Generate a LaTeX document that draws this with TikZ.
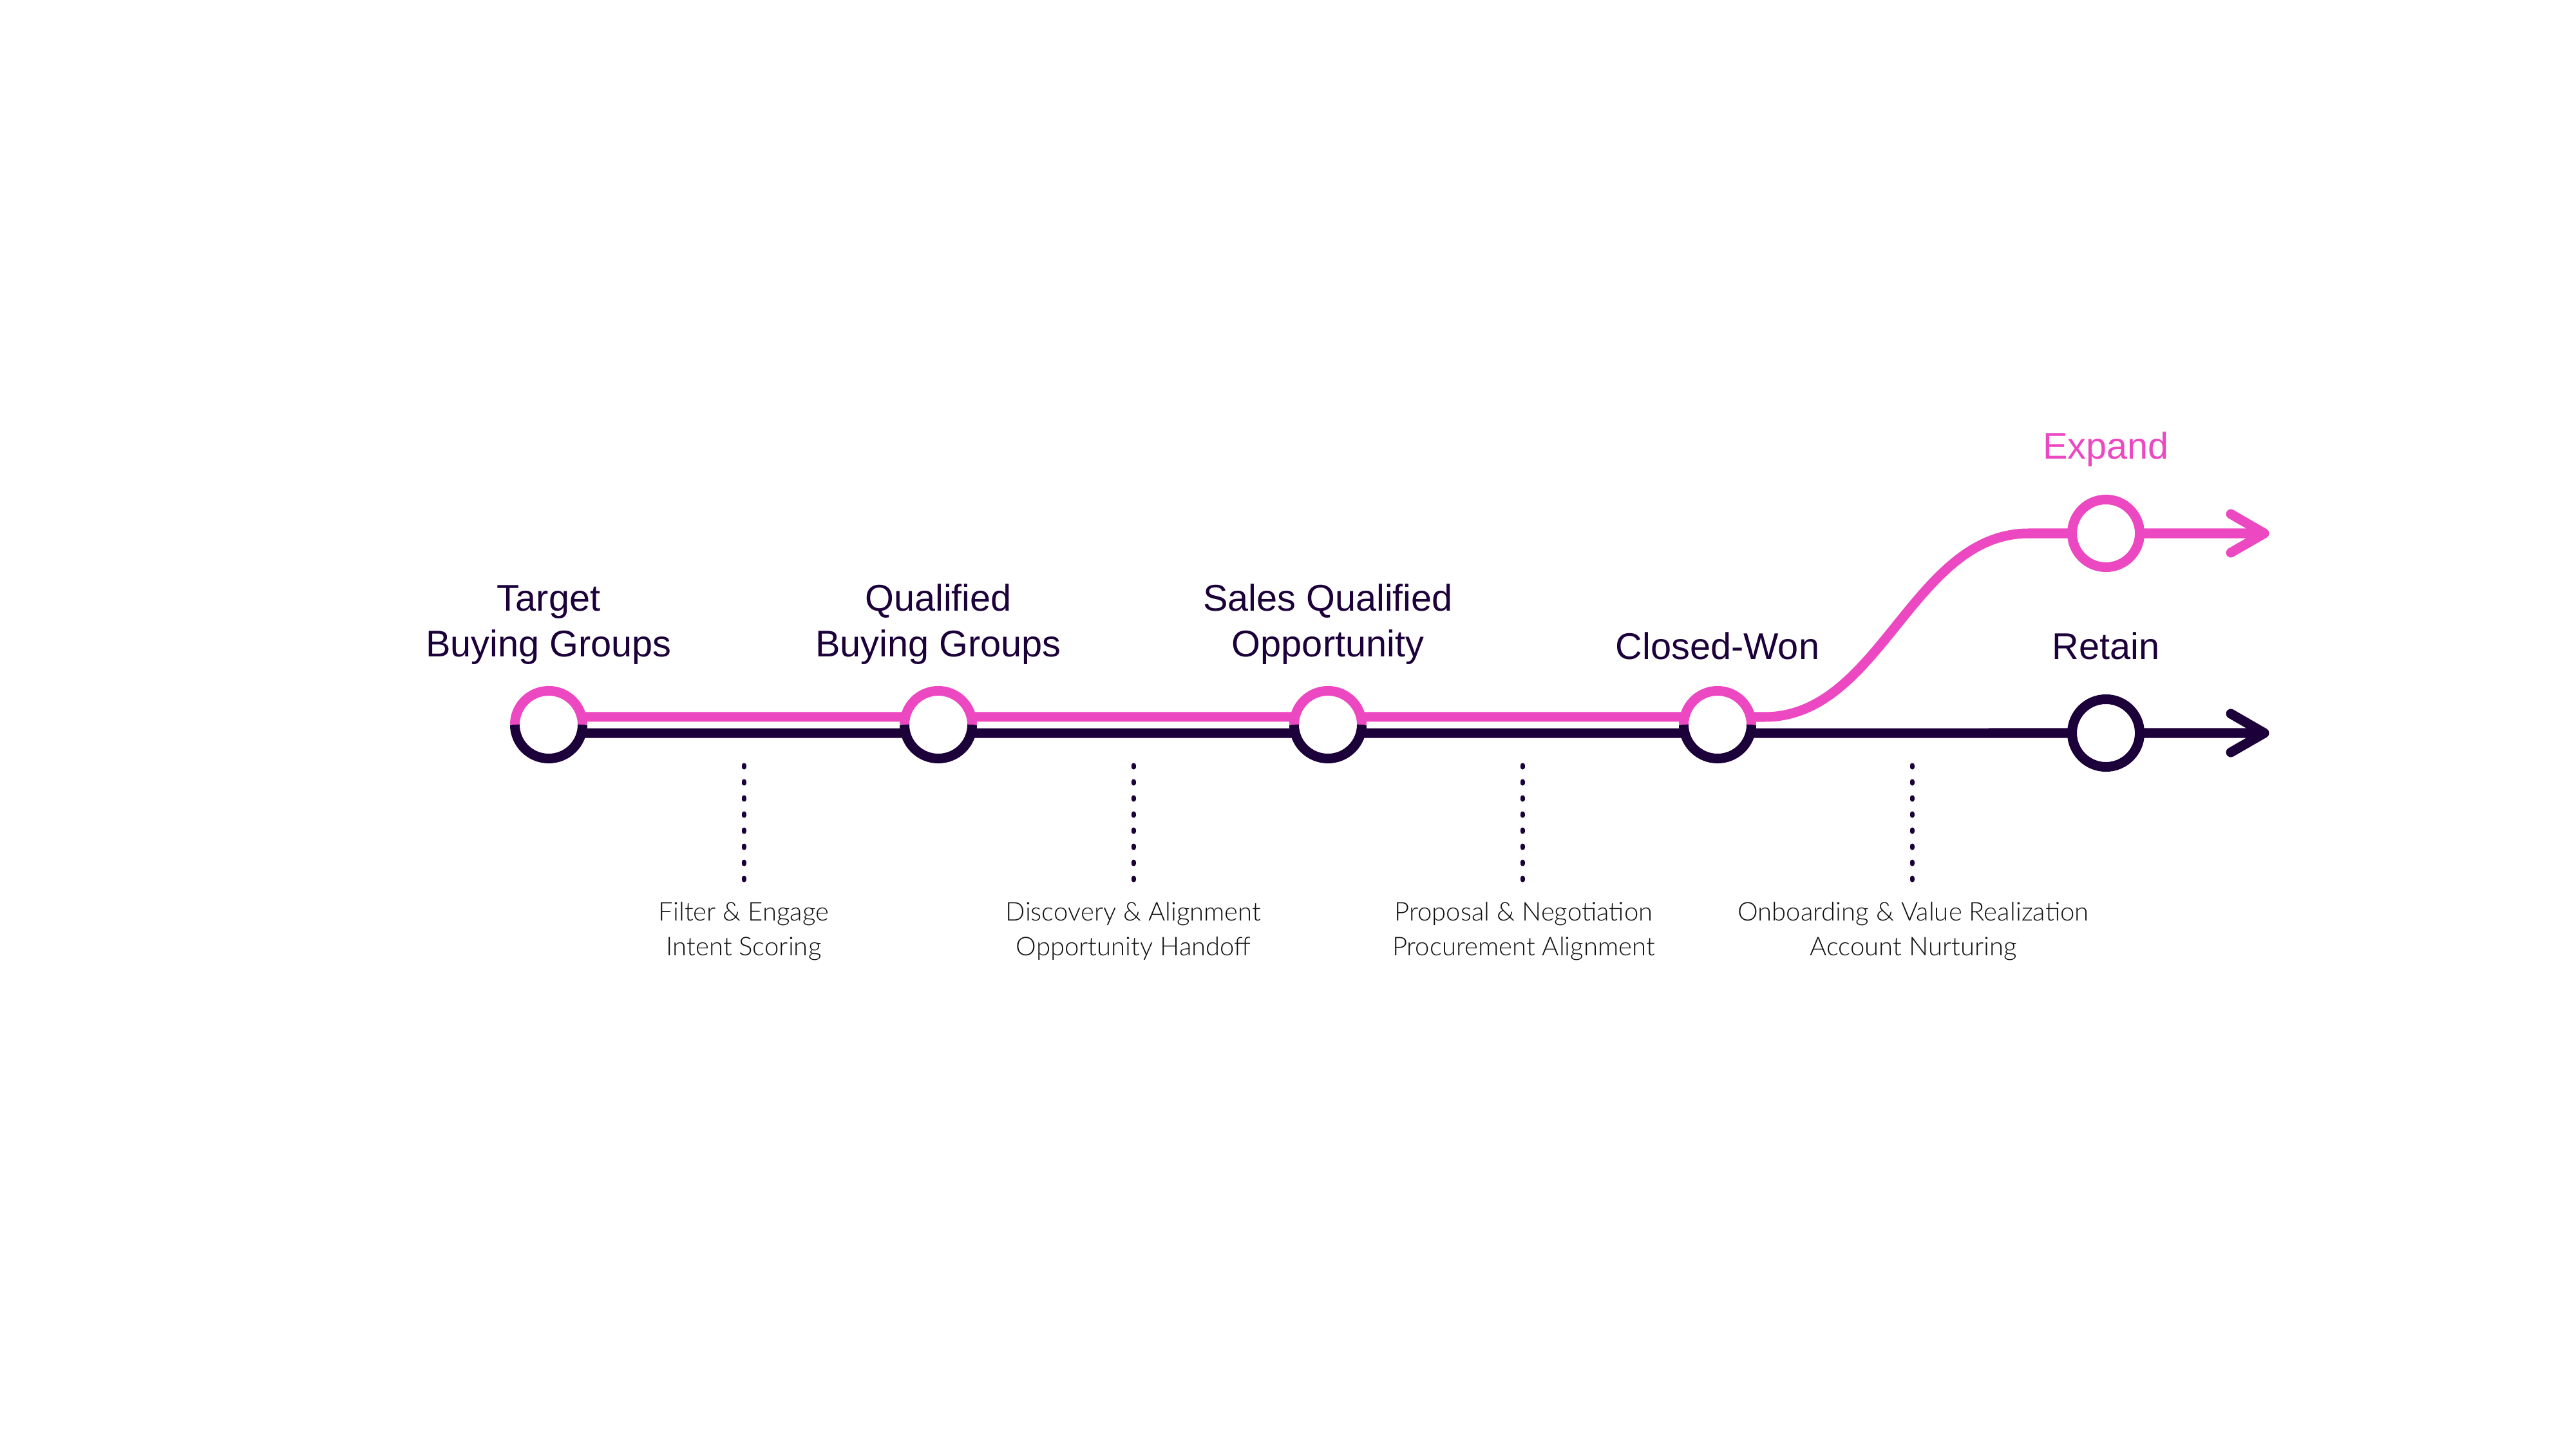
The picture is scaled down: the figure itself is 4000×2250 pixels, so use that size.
\documentclass[tikz,border=0pt]{standalone}
\usepackage{fontspec}
\setmainfont{Liberation Sans}
\IfFontExistsTF{Lato Light}{\newfontfamily\lightfont{Lato Light}}{\newfontfamily\lightfont{Liberation Sans}}
\definecolor{pk}{HTML}{EC48C1}
\definecolor{nv}{HTML}{1C0039}
\definecolor{tx}{HTML}{111111}
\begin{document}
\begin{tikzpicture}[x=0.01cm,y=0.01cm,
  stage/.style={circle,minimum size=1.05cm,inner sep=0pt,outer sep=0pt},
  pkln/.style={draw=pk,line width=0.15cm},
  nvln/.style={draw=nv,line width=0.15cm},
  title/.style={font=\fontsize{16.4}{20.2}\selectfont,text=nv,align=center,anchor=base,inner sep=0pt},
  note/.style={font=\lightfont\fontsize{11.4}{15.1}\selectfont,text=tx,align=center,anchor=base,inner sep=0pt},
  dotln/.style={draw=nv,line width=0.07cm,line cap=round,dash pattern=on 0.03cm off 0.22cm},
  tipln/.style={line width=0.15cm,line cap=round,line join=round}]
\useasboundingbox[fill=white] (0,0) rectangle (4000,2250);
% stage positions
\node[stage] (s1) at (852,1125) {};
\node[stage] (s2) at (1457,1125) {};
\node[stage] (s3) at (2062,1125) {};
\node[stage] (s4) at (2667,1125) {};
\node[stage] (s5) at (3270,1112) {};
\node[stage] (s6) at (3270,1422) {};
\coordinate (t5) at (3516,1112);
\coordinate (t6) at (3516,1422);
\coordinate (c1) at (2740,1137);
\coordinate (c2) at (3150,1422);
% tracks
\draw[pkln] ([yshift=0.12cm]s1.center) -- ([yshift=0.12cm]s2.center) -- ([yshift=0.12cm]s3.center) -- ([yshift=0.12cm]s4.center) -- (c1) .. controls (2920,1137) and (2970,1422) .. (c2) -- (s6.center) -- (t6);
\draw[nvln] ([yshift=-0.13cm]s1.center) -- ([yshift=-0.13cm]s2.center) -- ([yshift=-0.13cm]s3.center) -- ([yshift=-0.13cm]s4.center) -- (s5.center) -- (t5);
% arrow heads
\draw[tipln,pk] ([shift={(-52,30)}]t6) -- (t6) -- ([shift={(-52,-30)}]t6);
\draw[tipln,nv] ([shift={(-52,30)}]t5) -- (t5) -- ([shift={(-52,-30)}]t5);
% rings
\foreach \n in {s1,s2,s3,s4}{
  \fill[white] (\n.center) circle[radius=0.525cm];
  \draw[pk,line width=0.15cm] (\n.west) arc[start angle=180,end angle=0,radius=0.525cm];
  \draw[nv,line width=0.15cm] (\n.west) arc[start angle=180,end angle=360,radius=0.525cm];
}
\draw[nv,fill=white,line width=0.15cm] (s5.center) circle[radius=0.525cm];
\draw[pk,fill=white,line width=0.15cm] (s6.center) circle[radius=0.525cm];
% titles
\node[title] (l1) at (852,1230) {Target\\Buying Groups};
\node[title] (l2) at (1457,1230) {Qualified\\Buying Groups};
\node[title] (l3) at (2062,1230) {Sales Qualified\\Opportunity};
\node[title] (l4) at (2667,1227) {Closed-Won};
\node[title] (l5) at (3270,1227) {Retain};
\node[title,text=pk] (l6) at (3270,1537) {Expand};
% notes and dotted leaders
\node[note] (n1) at (1155,767) {Filter \& Engage\\Intent Scoring};
\node[note] (n2) at (1760,767) {Discovery \& Alignment\\Opportunity Handoff};
\node[note] (n3) at (2366,767) {Proposal \& Negotiation\\Procurement Alignment};
\node[note] (n4) at (2971,767) {Onboarding \& Value Realization\\Account Nurturing};
\foreach \i/\x in {1/1155,2/1760,3/2364,4/2969}{
  \coordinate (da\i) at (\x,1062);
  \coordinate (db\i) at (\x,884);
  \draw[dotln] (da\i) -- (db\i);
}
\end{tikzpicture}
\end{document}
